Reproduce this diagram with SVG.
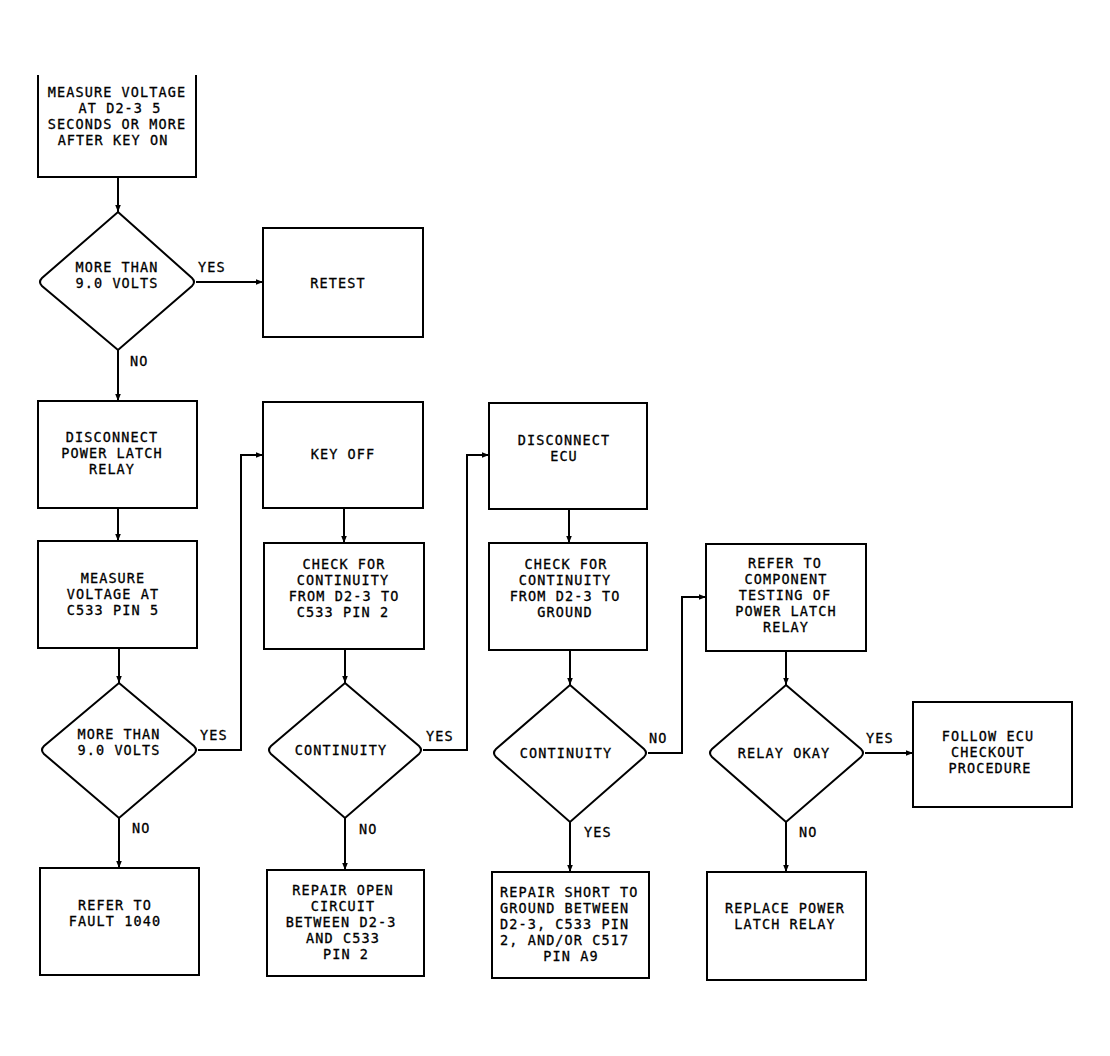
<svg xmlns="http://www.w3.org/2000/svg" width="1110" height="1056" viewBox="0 0 1110 1056">
<style>
.s{fill:none;stroke:#000;stroke-width:2}
.t{font-family:"DejaVu Sans Mono","Liberation Mono",monospace;font-size:13.5px;letter-spacing:1.1px;fill:#000;stroke:#000;stroke-width:0.3;text-anchor:middle}
.l{text-anchor:start}
.c{fill:none;stroke:#000;stroke-width:2}
</style>
<defs>
<marker id="a" viewBox="0 0 10 10" refX="10" refY="5" markerWidth="7" markerHeight="7" orient="auto" markerUnits="userSpaceOnUse">
<path d="M0,1 L10,5 L0,9 Z" fill="#000"/>
</marker>
</defs>
<rect width="1110" height="1056" fill="#fff"/>

<g id="n1"><path class="s" d="M38,75 V177 H196 V75"/>
<text class="t" x="117" y="97">MEASURE VOLTAGE</text>
<text class="t" x="120" y="113">AT D2-3 5</text>
<text class="t" x="117" y="129">SECONDS OR MORE</text>
<text class="t" x="113" y="145">AFTER KEY ON</text></g>

<g id="d1"><path class="s" d="M118,212 L192,278 Q196,282 192,286 L118,350 L42,286 Q38,282 42,278 Z"/>
<text class="t" x="117" y="272">MORE THAN</text>
<text class="t" x="117" y="288">9.0 VOLTS</text></g>

<g id="n2"><rect class="s" x="263" y="228" width="160" height="109"/>
<text class="t" x="338" y="288">RETEST</text></g>

<g id="n3"><rect class="s" x="38" y="401" width="159" height="107"/>
<text class="t" x="112" y="442">DISCONNECT</text>
<text class="t" x="112" y="458">POWER LATCH</text>
<text class="t" x="112" y="474">RELAY</text></g>

<g id="n4"><rect class="s" x="38" y="541" width="159" height="107"/>
<text class="t" x="113" y="583">MEASURE</text>
<text class="t" x="113" y="599">VOLTAGE AT</text>
<text class="t" x="113" y="615">C533 PIN 5</text></g>

<g id="d2"><path class="s" d="M119,683 L194,746 Q198,750 194,754 L119,818 L44,754 Q40,750 44,746 Z"/>
<text class="t" x="119" y="739">MORE THAN</text>
<text class="t" x="119" y="755">9.0 VOLTS</text></g>

<g id="n5"><rect class="s" x="40" y="868" width="159" height="107"/>
<text class="t" x="115" y="910">REFER TO</text>
<text class="t" x="115" y="926">FAULT 1040</text></g>

<g id="n6"><rect class="s" x="263" y="402" width="160" height="106"/>
<text class="t" x="343" y="459">KEY OFF</text></g>

<g id="n7"><rect class="s" x="264" y="543" width="160" height="106"/>
<text class="t" x="344" y="569">CHECK FOR</text>
<text class="t" x="343" y="585">CONTINUITY</text>
<text class="t" x="344" y="601">FROM D2-3 TO</text>
<text class="t" x="343" y="617">C533 PIN 2</text></g>

<g id="d3"><path class="s" d="M345,683 L419,746 Q423,750 419,754 L345,818 L271,754 Q267,750 271,746 Z"/>
<text class="t" x="341" y="755">CONTINUITY</text></g>

<g id="n8"><rect class="s" x="267" y="870" width="157" height="106"/>
<text class="t" x="343" y="895">REPAIR OPEN</text>
<text class="t" x="343" y="911">CIRCUIT</text>
<text class="t" x="341" y="927">BETWEEN D2-3</text>
<text class="t" x="343" y="943">AND C533</text>
<text class="t" x="346" y="959">PIN 2</text></g>

<g id="n9"><rect class="s" x="489" y="403" width="158" height="106"/>
<text class="t" x="564" y="445">DISCONNECT</text>
<text class="t" x="564" y="461">ECU</text></g>

<g id="n10"><rect class="s" x="489" y="543" width="158" height="107"/>
<text class="t" x="566" y="569">CHECK FOR</text>
<text class="t" x="565" y="585">CONTINUITY</text>
<text class="t" x="565" y="601">FROM D2-3 TO</text>
<text class="t" x="565" y="617">GROUND</text></g>

<g id="d4"><path class="s" d="M570,685 L644,749 Q648,753 644,757 L570,822 L496,757 Q492,753 496,749 Z"/>
<text class="t" x="566" y="758">CONTINUITY</text></g>

<g id="n11"><rect class="s" x="492" y="872" width="157" height="106"/>
<text class="t l" x="500" y="897">REPAIR SHORT TO</text>
<text class="t l" x="500" y="913">GROUND BETWEEN</text>
<text class="t l" x="500" y="929">D2-3, C533 PIN</text>
<text class="t l" x="500" y="945">2, AND/OR C517</text>
<text class="t" x="571" y="961">PIN A9</text></g>

<g id="n12"><rect class="s" x="706" y="544" width="160" height="107"/>
<text class="t" x="785" y="568">REFER TO</text>
<text class="t" x="786" y="584">COMPONENT</text>
<text class="t" x="785" y="600">TESTING OF</text>
<text class="t" x="786" y="616">POWER LATCH</text>
<text class="t" x="786" y="632">RELAY</text></g>

<g id="d5"><path class="s" d="M786,685 L861,749 Q865,753 861,757 L786,822 L712,757 Q708,753 712,749 Z"/>
<text class="t" x="784" y="758">RELAY OKAY</text></g>

<g id="n13"><rect class="s" x="707" y="872" width="159" height="108"/>
<text class="t" x="785" y="913">REPLACE POWER</text>
<text class="t" x="785" y="929">LATCH RELAY</text></g>

<g id="n14"><rect class="s" x="913" y="702" width="159" height="105"/>
<text class="t" x="988" y="741">FOLLOW ECU</text>
<text class="t" x="988" y="757">CHECKOUT</text>
<text class="t" x="990" y="773">PROCEDURE</text></g>

<g id="connectors">
<path class="c" marker-end="url(#a)" d="M118,177 V212"/>
<path class="c" marker-end="url(#a)" d="M196,282 H263"/>
<path class="c" marker-end="url(#a)" d="M118,350 V401"/>
<path class="c" marker-end="url(#a)" d="M118,508 V541"/>
<path class="c" marker-end="url(#a)" d="M119,648 V683"/>
<path class="c" marker-end="url(#a)" d="M198,750 H241 V455 H263"/>
<path class="c" marker-end="url(#a)" d="M119,818 V868"/>
<path class="c" marker-end="url(#a)" d="M344,508 V543"/>
<path class="c" marker-end="url(#a)" d="M345,649 V683"/>
<path class="c" marker-end="url(#a)" d="M423,750 H467 V455 H489"/>
<path class="c" marker-end="url(#a)" d="M345,818 V870"/>
<path class="c" marker-end="url(#a)" d="M569,509 V543"/>
<path class="c" marker-end="url(#a)" d="M570,650 V685"/>
<path class="c" marker-end="url(#a)" d="M648,753 H682 V597 H706"/>
<path class="c" marker-end="url(#a)" d="M570,822 V872"/>
<path class="c" marker-end="url(#a)" d="M786,651 V685"/>
<path class="c" marker-end="url(#a)" d="M865,753 H913"/>
<path class="c" marker-end="url(#a)" d="M786,822 V872"/>
<text class="t l" x="198" y="272">YES</text>
<text class="t l" x="130" y="366">NO</text>
<text class="t l" x="200" y="740">YES</text>
<text class="t l" x="132" y="833">NO</text>
<text class="t l" x="426" y="741">YES</text>
<text class="t l" x="359" y="834">NO</text>
<text class="t l" x="649" y="743">NO</text>
<text class="t l" x="584" y="837">YES</text>
<text class="t l" x="799" y="837">NO</text>
<text class="t l" x="866" y="743">YES</text>
</g>
</svg>
